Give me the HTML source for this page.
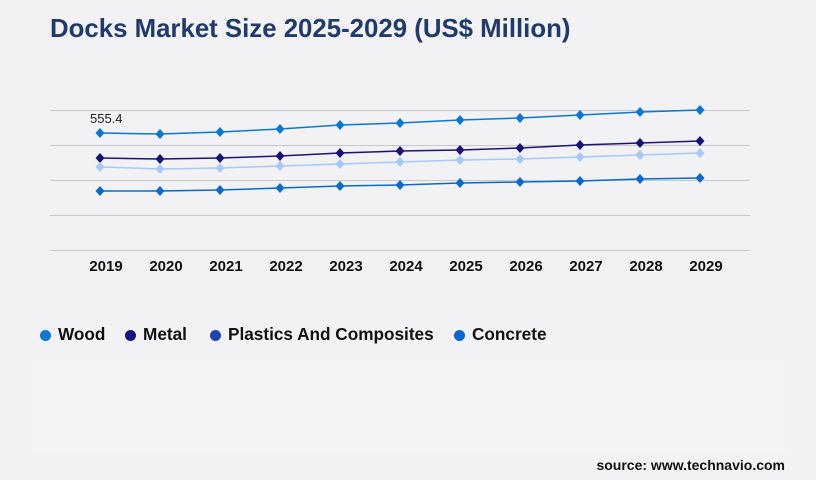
<!DOCTYPE html>
<html><head><style>
body{margin:0;width:816px;height:480px;background:#f2f2f4;font-family:"Liberation Sans",Arial,sans-serif;overflow:hidden;position:relative}
.t{position:absolute;left:50px;top:15px;font-size:25.8px;font-weight:bold;color:#1f3a6b}
.lg{position:absolute;top:324px;font-size:17.2px;font-weight:bold;color:#111}
.d{display:inline-block;width:11px;height:11px;border-radius:50%;position:absolute;left:-18px;top:6px}
.src{position:absolute;right:31px;top:457px;font-size:14px;font-weight:bold;color:#111}
.panel{position:absolute;left:32px;top:360px;width:756px;height:92px;background:#f3f3f5}
</style></head><body>
<div class="t">Docks Market Size 2025-2029 (US$ Million)</div>
<div class="panel"></div>
<svg width="816" height="480" style="position:absolute;left:0;top:0">
<g stroke="#c8c8c8" stroke-width="1">
<line x1="50" x2="750" y1="110.5" y2="110.5"/><line x1="50" x2="750" y1="145.5" y2="145.5"/><line x1="50" x2="750" y1="180.5" y2="180.5"/><line x1="50" x2="750" y1="215.5" y2="215.5"/><line x1="50" x2="750" y1="250.5" y2="250.5"/>
</g>
<text x="90" y="123" font-size="13" fill="#222" font-family="Liberation Sans">555.4</text>
<g id="s"></g>
<g font-size="15" font-weight="bold" fill="#111" text-anchor="middle" font-family="Liberation Sans">
<text x="106" y="271">2019</text><text x="166" y="271">2020</text><text x="226" y="271">2021</text><text x="286" y="271">2022</text><text x="346" y="271">2023</text><text x="406" y="271">2024</text><text x="466" y="271">2025</text><text x="526" y="271">2026</text><text x="586" y="271">2027</text><text x="646" y="271">2028</text><text x="706" y="271">2029</text>
</g>
</svg>
<div class="lg" style="left:58px"><span class="d" style="background:#0a78d0"></span>Wood</div>
<div class="lg" style="left:143px"><span class="d" style="background:#1a1480"></span>Metal</div>
<div class="lg" style="left:228px"><span class="d" style="background:#1a44b0"></span>Plastics And Composites</div>
<div class="lg" style="left:472px"><span class="d" style="background:#0a66cc"></span>Concrete</div>
<div class="src">source: www.technavio.com</div>
<script>
var S=[["#0a78d0",[133,134,132,129,125,123,120,118,115,112,110]],["#1a1478",[158,159,158,156,153,151,150,148,145,143,141]],["#a8c8f8",[167,169,168,166,164,162,160,159,157,155,153]],["#0a6acc",[191,191,190,188,186,185,183,182,181,179,178]]];
var h="";S.forEach(function(s){var p=s[1].map(function(y,i){return (100+60*i)+","+y}).join(" ");h+='<polyline points="'+p+'" fill="none" stroke="'+s[0]+'" stroke-width="1.5"/>';s[1].forEach(function(y,i){var x=100+60*i;h+='<polygon points="'+x+','+(y-5)+' '+(x+4.5)+','+y+' '+x+','+(y+5)+' '+(x-4.5)+','+y+'" fill="'+s[0]+'"/>';});});
document.getElementById("s").innerHTML=h;
</script>
</body></html>
